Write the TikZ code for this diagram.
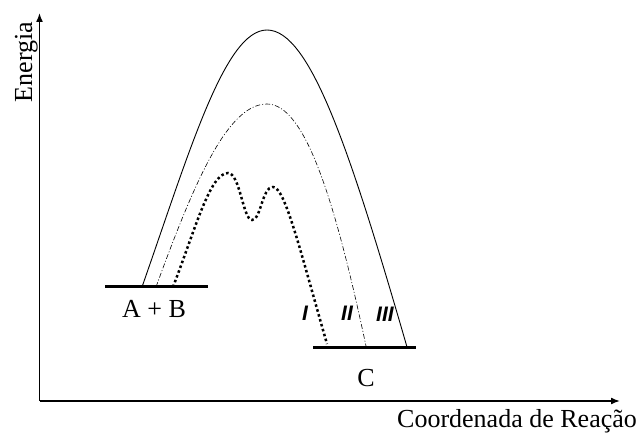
\documentclass[tikz,border=0pt]{standalone}
\usepackage{fontspec}
\setmainfont{Liberation Serif}
\newfontfamily\romfont{Liberation Sans}
\usepackage{tikz}
\usepackage{tkz-euclide}
\usepackage{amsmath}

\tikzset{
  eixo/.style={line width=1.5pt,-{Latex[length=9pt,width=7pt]}},
  nivel/.style={line width=3pt},
  texto/.style={font=\fontsize{26}{30}\selectfont,inner sep=0pt},
  rotulo/.style={font=\romfont\bfseries\itshape\fontsize{21}{24}\selectfont,inner sep=0pt},
  caminhoI/.style={line width=2.5pt,dash pattern=on 2.5pt off 2.6pt},
  caminhoII/.style={line width=0.6pt,dash pattern=on 5pt off 2pt on 1pt off 2pt},
  caminhoIII/.style={line width=0.9pt}
}
\usetikzlibrary{arrows.meta}

\begin{document}
\begin{tikzpicture}[x=1pt,y=-1pt]
    \useasboundingbox (0,0) rectangle (641,433);
    \coordinate (O) at (39.5,401);
    \coordinate (Y) at (39.5,13);
    \coordinate (X) at (620,401);
    \draw[eixo] (O) -- (Y);
    \draw[eixo] (O) -- (X);
    \node[texto,rotate=90,anchor=base] (energia) at (32,62) {Energia};
    \node[texto,anchor=base west] (coord) at (397,428) {Coordenada de Reação};
    % niveis
    \coordinate (R1) at (105,287);
    \coordinate (R2) at (208,287);
    \coordinate (P1) at (313,348);
    \coordinate (P2) at (416,348);
    \draw[nivel] (R1) -- (R2);
    \draw[nivel] (P1) -- (P2);
    \node[texto,anchor=base] (AB) at (154,318) {A + B};
    \node[texto,anchor=base] (C) at (366,387) {C};
    % caminho III
    \coordinate (a3) at (142,287);
    \coordinate (t3) at (267,30);
    \coordinate (b3) at (407,347);
    \draw[caminhoIII] (a3) .. controls (190,150) and (225,30) .. (t3)
        .. controls (310,30) and (350,150) .. (b3);
    % caminho II
    \coordinate (a2) at (156,287);
    \coordinate (t2) at (267,104);
    \coordinate (b2) at (366,346);
    \draw[caminhoII] (a2) .. controls (195,180) and (228,104) .. (t2)
        .. controls (305,104) and (335,200) .. (b2);
    % caminho I
    \coordinate (a1) at (173,287);
    \coordinate (t1) at (228,173);
    \coordinate (m1) at (252,220);
    \coordinate (s1) at (273,187);
    \coordinate (b1) at (327,344);
    \draw[caminhoI] (a1) .. controls (195,230) and (210,173) .. (t1)
        .. controls (240,173) and (243,220) .. (m1)
        .. controls (261,220) and (262,187) .. (s1)
        .. controls (285,187) and (300,250) .. (b1);
    \node[rotulo] (LI) at (305,313) {I};
    \node[rotulo] (LII) at (347,313) {II};
    \node[rotulo] (LIII) at (385,314) {III};
\end{tikzpicture}
\end{document}
